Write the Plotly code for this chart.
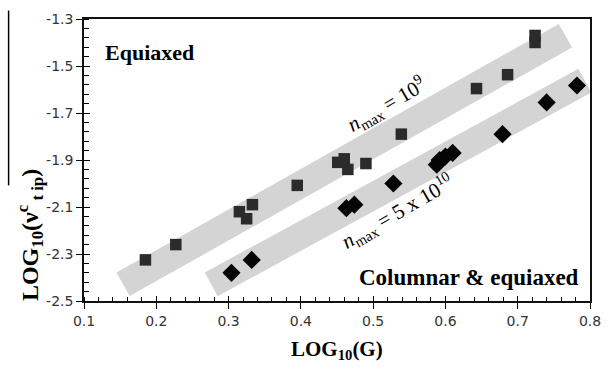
import plotly.graph_objects as go

# Data
sq_x = [0.185, 0.227, 0.315, 0.325, 0.333, 0.395, 0.451, 0.460, 0.465, 0.490, 0.539, 0.643, 0.686, 0.724, 0.724]
sq_y = [-2.325, -2.26, -2.12, -2.15, -2.09, -2.008, -1.91, -1.895, -1.94, -1.915, -1.79, -1.596, -1.537, -1.40, -1.37]

di_x = [0.304, 0.332, 0.463, 0.474, 0.528, 0.588, 0.592, 0.600, 0.610, 0.679, 0.740, 0.782]
di_y = [-2.38, -2.325, -2.105, -2.09, -2.00, -1.92, -1.90, -1.885, -1.87, -1.79, -1.655, -1.583]

band_upper_x = [0.154, 0.766]
band_upper_y = [-2.429, -1.371]
band_lower_x = [0.276, 0.793]
band_lower_y = [-2.429, -1.5625]

x_tickvals = [0.1, 0.2, 0.3, 0.4, 0.5, 0.6, 0.7, 0.8]
x_ticktext = ["0.1", "0.2", "0.3", "0.4", "0.5", "0.6", "0.7", "0.8"]
y_tickvals = [-2.5, -2.3, -2.1, -1.9, -1.7, -1.5, -1.3]
y_ticktext = ["-2.5", "-2.3", "-2.1", "-1.9", "-1.7", "-1.5", "-1.3"]

x_range = [0.1, 0.8]
y_range = [-2.5, -1.3]

SERIF = "Liberation Serif"
SANS = "DejaVu Sans"

fig = go.Figure()
fig.add_trace(go.Scatter(x=sq_x, y=sq_y, mode="markers",
                         marker=dict(symbol="square", size=11.5, color="#2b2b2b"),
                         showlegend=False))
fig.add_trace(go.Scatter(x=di_x, y=di_y, mode="markers",
                         marker=dict(symbol="diamond", size=14, color="#050505"),
                         showlegend=False))
# invisible trace for overlay axes (crossing major ticks)
fig.add_trace(go.Scatter(x=[x_range[0]], y=[y_range[0]], xaxis="x2", yaxis="y2",
                         mode="markers", marker=dict(opacity=0), showlegend=False,
                         hoverinfo="skip"))

for bx, by in [(band_upper_x, band_upper_y), (band_lower_x, band_lower_y)]:
    fig.add_shape(type="line", xref="x", yref="y", x0=bx[0], y0=by[0], x1=bx[1], y1=by[1],
                  line=dict(color="#d4d4d4", width=27), layer="below")

# overline of the y title
fig.add_shape(type="line", xref="paper", yref="paper", x0=-0.149, x1=-0.149, y0=1.03, y1=0.41,
              line=dict(color="black", width=1.5))

axis_common = dict(showgrid=False, zeroline=False, showline=True, linecolor="#111",
                   linewidth=1.5, mirror=True, tickcolor="black", ticklen=6, tickwidth=1.2,
                   ticks="outside", tickfont=dict(family=SANS, size=14, color="#333"))

fig.update_layout(
    width=612, height=369,
    margin=dict(l=84, r=11, t=13, b=68),
    paper_bgcolor="white", plot_bgcolor="white",
    xaxis=dict(range=x_range, tickvals=x_tickvals, ticktext=x_ticktext,
               minor=dict(tick0=0.1, dtick=0.02, ticks="inside", ticklen=4, tickcolor="black"),
               **axis_common),
    yaxis=dict(range=y_range, tickvals=y_tickvals, ticktext=y_ticktext,
               minor=dict(tick0=-2.5, dtick=0.04, ticks="inside", ticklen=5, tickcolor="black"),
               **axis_common),
    xaxis2=dict(range=x_range, tickvals=x_tickvals, overlaying="x", anchor="y", side="bottom",
                ticks="inside", ticklen=5, tickcolor="black", tickwidth=1.2,
                showticklabels=False, showgrid=False, zeroline=False, showline=False),
    yaxis2=dict(range=y_range, tickvals=y_tickvals, overlaying="y", anchor="x", side="left",
                ticks="inside", ticklen=6, tickcolor="black", tickwidth=1.2,
                showticklabels=False, showgrid=False, zeroline=False, showline=False),
)

fig.add_annotation(text="<b>LOG<sub>10</sub>(G)</b>", xref="paper", yref="paper",
                   x=0.5, y=-0.174, xanchor="center", yanchor="middle", showarrow=False,
                   font=dict(family=SERIF, size=21, color="black"))
fig.add_annotation(text="<b>LOG<sub>10</sub>(ν<sup>c</sup><sub> t ip</sub>)</b>",
                   xref="paper", yref="paper", x=-0.108, y=0.235, textangle=-90,
                   xanchor="center", yanchor="middle", showarrow=False,
                   font=dict(family=SERIF, size=24, color="black"))
fig.add_annotation(text="<b>Equiaxed</b>", x=0.126, y=-1.442, xanchor="left", yanchor="middle",
                   showarrow=False, font=dict(family=SERIF, size=22, color="black"))
fig.add_annotation(text="<b>Columnar &amp; equiaxed</b>", x=0.788, y=-2.40, xanchor="right",
                   yanchor="middle", showarrow=False, font=dict(family=SERIF, size=23, color="black"))
fig.add_annotation(text="<i>n</i><sub>max</sub> = 10<sup>9</sup>", x=0.518, y=-1.6625,
                   textangle=-30, showarrow=False, font=dict(family=SERIF, size=21, color="black"))
fig.add_annotation(text="<i>n</i><sub>max</sub> = 5 x 10<sup>10</sup>", x=0.534, y=-2.121,
                   textangle=-30, showarrow=False, font=dict(family=SERIF, size=21, color="black"))

fig.write_html("out.html")
